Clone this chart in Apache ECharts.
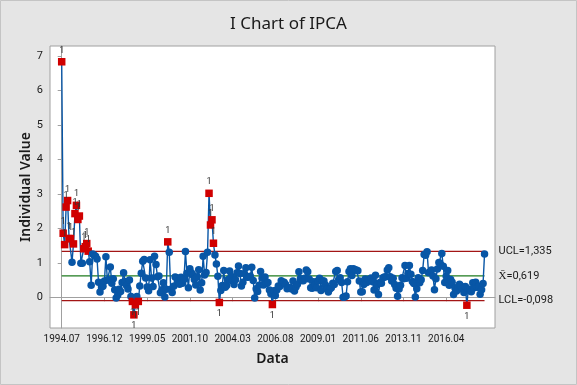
<!DOCTYPE html>
<html>
<head>
<meta charset="utf-8">
<script src="https://cdn.jsdelivr.net/npm/echarts@6/dist/echarts.min.js"></script>
<style>
html,body{margin:0;padding:0;background:#e5e5e5;}
#c{width:577px;height:385px;}
</style>
</head>
<body>
<div id="c"></div>
<script>
// Monthly IPCA values, 1994.07 .. 2018.06
const ipca = [
 6.84,1.86,1.53,2.62,2.81,1.71,
 1.70,1.02,1.55,2.43,2.67,2.26,2.36,0.99,0.99,1.41,1.47,1.56,
 1.34,1.03,0.35,1.26,1.22,1.19,1.11,0.44,0.15,0.30,0.32,0.47,
 1.18,0.50,0.51,0.88,0.41,0.54,0.22,-0.02,0.06,0.23,0.17,0.43,
 0.71,0.46,0.34,0.24,0.50,0.02,-0.12,-0.51,-0.22,0.02,-0.12,0.33,
 0.70,1.05,1.10,0.56,0.30,0.19,1.09,0.56,0.31,1.19,0.95,0.60,
 0.62,0.13,0.22,0.42,0.01,0.23,1.61,1.31,0.23,0.14,0.32,0.59,
 0.57,0.46,0.38,0.58,0.41,0.52,1.33,0.70,0.28,0.83,0.71,0.65,
 0.52,0.36,0.60,0.80,0.21,0.42,1.19,0.65,0.72,1.31,3.02,2.10,
 2.25,1.57,1.23,0.97,0.61,-0.15,0.20,0.34,0.78,0.29,0.34,0.52,
 0.76,0.61,0.47,0.37,0.51,0.71,0.91,0.69,0.33,0.44,0.69,0.86,
 0.58,0.59,0.61,0.87,0.49,-0.02,0.25,0.17,0.35,0.75,0.55,0.36,
 0.59,0.41,0.43,0.21,0.10,-0.21,0.19,0.05,0.21,0.33,0.31,0.48,
 0.44,0.44,0.37,0.25,0.28,0.28,0.24,0.47,0.18,0.30,0.38,0.74,
 0.54,0.49,0.48,0.55,0.79,0.74,0.53,0.28,0.26,0.45,0.36,0.28,
 0.48,0.55,0.20,0.48,0.47,0.36,0.24,0.15,0.24,0.28,0.41,0.37,
 0.75,0.78,0.52,0.57,0.43,0.00,0.01,0.04,0.45,0.75,0.83,0.63,
 0.83,0.80,0.79,0.77,0.47,0.15,0.16,0.37,0.53,0.43,0.52,0.50,
 0.56,0.45,0.21,0.64,0.36,0.08,0.43,0.41,0.57,0.59,0.60,0.79,
 0.86,0.60,0.47,0.55,0.37,0.26,0.03,0.24,0.35,0.57,0.54,0.92,
 0.55,0.69,0.92,0.67,0.46,0.40,0.01,0.25,0.57,0.42,0.51,0.78,
 1.24,1.22,1.32,0.71,0.74,0.79,0.62,0.22,0.54,0.82,1.01,0.96,
 1.27,0.90,0.43,0.61,0.78,0.35,0.52,0.44,0.08,0.26,0.18,0.30,
 0.38,0.33,0.25,0.14,0.31,-0.23,0.24,0.19,0.16,0.42,0.28,0.44,
 0.29,0.32,0.09,0.22,0.40,1.26
];
const tickIndex = [0,29,58,87,116,145,174,203,232,261];
const tickLabels = ['1994.07','1996.12','1999.05','2001.10','2004.03','2006.08','2009.01','2011.06','2013.11','2016.04'];
const yTicks = [0,1,2,3,4,5,6,7];
const UCL = 1.335, CL = 0.619, LCL = -0.098;

const BLUE = '#0856a6', RED = '#d00000';
const fmt = v => String(v).replace('.', ',');
const lastIdx = ipca.length - 1;

const pts = ipca.map((v, i) => {
  const out = v > UCL || v < LCL;
  if (!out) return [i, v];
  return {
    value: [i, v],
    symbol: 'rect',
    symbolSize: 7.5,
    itemStyle: {color: RED},
    label: {show: true, formatter: '1', position: v > CL ? 'top' : 'bottom', distance: 3,
      fontSize: 9, color: '#333', fontFamily: 'Roboto'}
  };
});

function ctrl(val, color, text) {
  return {
    type: 'line', data: [[0, val], [lastIdx, val]], symbol: 'none', z: 1,
    lineStyle: {color: color, width: 1.3}, silent: true,
    endLabel: {show: true, formatter: text, distance: 14, fontSize: 11,
      color: '#1a1a1a', fontFamily: 'Roboto'}
  };
}

const chart = echarts.init(document.getElementById('c'), null, {renderer: 'canvas'});
chart.setOption({
  animation: false,
  backgroundColor: '#e5e5e5',
  title: {text: 'I Chart of IPCA', left: 'center', top: 11,
    textStyle: {fontFamily: 'Noto Sans', fontSize: 17, fontWeight: 'normal', color: '#1a1a1a'}},
  grid: {left: 50, top: 46, right: 82, bottom: 57, show: true, backgroundColor: '#fff',
    borderColor: '#a0a0a0', borderWidth: 1},
  xAxis: {
    type: 'value', min: -7.94, max: 294.1,
    name: 'Data', nameLocation: 'middle', nameGap: 24,
    nameTextStyle: {fontFamily: 'Noto Sans', fontSize: 14, fontWeight: 600, color: '#1a1a1a'},
    splitLine: {show: false},
    axisLine: {show: true, lineStyle: {color: '#a0a0a0'}},
    axisTick: {show: true, length: 4, lineStyle: {color: '#a0a0a0'}, customValues: tickIndex},
    axisLabel: {customValues: tickIndex, fontFamily: 'Roboto', fontSize: 10, color: '#1a1a1a', margin: 6,
      formatter: v => tickLabels[tickIndex.indexOf(Math.round(v))] || ''}
  },
  yAxis: {
    type: 'value', min: -0.892, max: 7.298,
    name: 'Individual Value', nameLocation: 'middle', nameGap: 17, nameRotate: 90,
    nameMoveOverlap: false,
    nameTextStyle: {fontFamily: 'Noto Sans', fontSize: 14, fontWeight: 600, color: '#1a1a1a'},
    splitLine: {show: false},
    axisLine: {show: true, lineStyle: {color: '#a0a0a0'}},
    axisTick: {show: true, length: 4, lineStyle: {color: '#a0a0a0'}, customValues: yTicks},
    axisLabel: {customValues: yTicks, fontFamily: 'Roboto', fontSize: 11, color: '#1a1a1a', margin: 7}
  },
  graphic: [{type: 'rect', shape: {x: 0.5, y: 0.5, width: 576, height: 384},
    style: {fill: null, stroke: '#c4c4c4', lineWidth: 1}, silent: true}],
  series: [
    ctrl(UCL, '#a31515', 'UCL=' + fmt(UCL)),
    ctrl(CL, '#1e7b1e', 'X\u0304=' + fmt(CL)),
    ctrl(LCL, '#a31515', 'LCL=' + fmt(LCL)),
    {
      type: 'line', data: pts, z: 3,
      symbol: 'circle', symbolSize: 7.5, showSymbol: true, showAllSymbol: true,
      lineStyle: {color: BLUE, width: 1.4},
      itemStyle: {color: BLUE},
      emphasis: {disabled: true}
    }
  ]
});
</script>
</body>
</html>
